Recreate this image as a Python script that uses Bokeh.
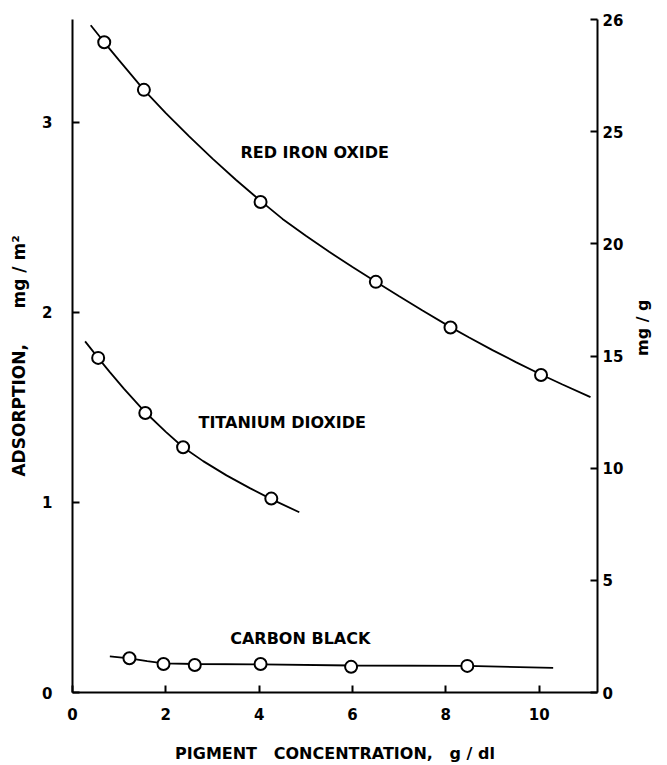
from bokeh.plotting import figure
from bokeh.models import Range1d, LinearAxis, FixedTicker, Label
from bokeh.embed import file_html
from bokeh.resources import INLINE
import math

# --- data ---
red_x = [0.68, 1.53, 4.03, 6.5, 8.1, 10.04]
red_y = [3.42, 3.17, 2.58, 2.16, 1.92, 1.67]
red_curve_x = [0.39, 0.68, 1.0, 1.53, 2.0, 2.5, 3.0, 3.5, 4.03, 4.5, 5.0, 5.5, 6.0, 6.5,
               7.0, 7.5, 8.1, 8.5, 9.0, 9.5, 10.04, 10.5, 11.1]
red_curve_y = [3.51, 3.42, 3.325, 3.17, 3.048, 2.925, 2.808, 2.697, 2.586, 2.491, 2.402, 2.318,
               2.238, 2.16, 2.084, 2.009, 1.922, 1.867, 1.801, 1.738, 1.673, 1.62, 1.554]

tio2_x = [0.55, 1.56, 2.37, 4.26]
tio2_y = [1.76, 1.47, 1.29, 1.02]
tio2_curve_x = [0.27, 0.55, 0.8, 1.1, 1.56, 2.0, 2.37, 2.8, 3.3, 3.8, 4.26, 4.86]
tio2_curve_y = [1.847, 1.76, 1.685, 1.598, 1.474, 1.371, 1.29, 1.217, 1.142, 1.075, 1.017, 0.948]

cb_x = [1.22, 1.95, 2.62, 4.03, 5.97, 8.46]
cb_y = [0.18, 0.15, 0.145, 0.15, 0.135, 0.14]
cb_curve_x = [0.8, 1.22, 1.6, 1.95, 2.62, 4.03, 5.97, 8.46, 10.3]
cb_curve_y = [0.19, 0.18, 0.165, 0.153, 0.15, 0.148, 0.142, 0.14, 0.13]

x_ticks = [0, 2, 4, 6, 8, 10]
left_ticks = [0, 1, 2, 3]
right_ticks = [0, 5, 10, 15, 20, 25, 30]
right_tick_labels = {30: "26"}

FONT = "DejaVu Sans"
NB = "\u00a0"

p = figure(width=667, height=765, output_backend="svg", toolbar_location=None,
           x_range=Range1d(0, 11.25), y_range=Range1d(0, 3.54),
           min_border_left=72, min_border_right=70, min_border_top=19, min_border_bottom=73)
p.outline_line_color = None
p.grid.visible = False
p.background_fill_color = "white"
p.border_fill_color = "white"

p.extra_y_ranges = {"right": Range1d(0, 30)}
right_axis = LinearAxis(y_range_name="right")
p.add_layout(right_axis, "right")

for ax in [p.xaxis[0], p.yaxis[0], right_axis]:
    ax.axis_line_width = 2
    ax.axis_line_color = "black"
    ax.major_tick_in = 7
    ax.major_tick_out = 0
    ax.major_tick_line_width = 2
    ax.minor_tick_line_color = None
    ax.major_label_text_font = FONT
    ax.major_label_text_font_style = "bold"
    ax.major_label_text_font_size = "15px"
    ax.major_label_text_color = "black"
    ax.axis_label_text_font = FONT
    ax.axis_label_text_font_style = "bold"
    ax.axis_label_text_font_size = "16px"
    ax.axis_label_text_color = "black"

p.xaxis[0].ticker = FixedTicker(ticks=x_ticks)
p.yaxis[0].ticker = FixedTicker(ticks=left_ticks)
right_axis.ticker = FixedTicker(ticks=right_ticks)
right_axis.major_label_overrides = right_tick_labels

p.xaxis[0].axis_label = "PIGMENT" + NB * 2 + " CONCENTRATION," + NB * 2 + " g / dl"
p.xaxis[0].major_label_standoff = 15
p.xaxis[0].axis_label_standoff = 21
p.yaxis[0].axis_label = "ADSORPTION," + NB * 5 + " mg / m²"
p.yaxis[0].axis_label_text_font_size = "17px"
p.yaxis[0].major_label_standoff = 20
p.yaxis[0].axis_label_standoff = 10
right_axis.axis_label = "mg / g"
right_axis.major_label_standoff = 5
right_axis.axis_label_standoff = 16
right_axis.axis_label_orientation = math.pi / 2

for cx, cy, mx, my in [(red_curve_x, red_curve_y, red_x, red_y),
                       (tio2_curve_x, tio2_curve_y, tio2_x, tio2_y),
                       (cb_curve_x, cb_curve_y, cb_x, cb_y)]:
    p.line(cx, cy, line_color="black", line_width=1.8)
    p.scatter(mx, my, marker="circle", size=12, fill_color="white",
              line_color="black", line_width=2)

for txt, x, y in [("RED IRON OXIDE", 3.6, 2.84), ("TITANIUM DIOXIDE", 2.7, 1.42),
                  ("CARBON BLACK", 3.38, 0.284)]:
    p.add_layout(Label(x=x, y=y, text=txt, text_font=FONT, text_font_style="bold",
                       text_font_size="16px", text_color="black",
                       text_align="left", text_baseline="middle"))

open("out.html", "w").write(file_html(p, INLINE))
